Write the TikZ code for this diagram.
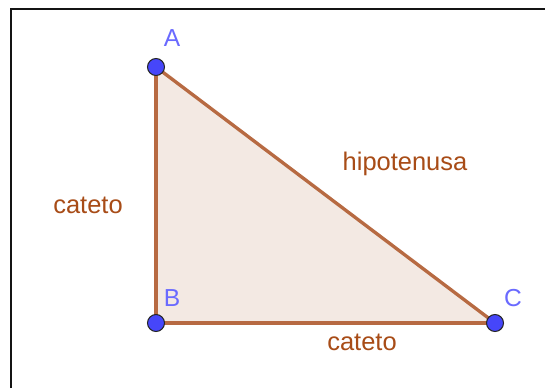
\documentclass[tikz,border=0pt]{standalone}
\usepackage{fontspec}
\setmainfont{Liberation Sans}
\usepackage{tikz}
\usetikzlibrary{positioning,backgrounds}
\definecolor{seg}{HTML}{B76A42}
\definecolor{segfill}{HTML}{F3E9E3}
\definecolor{lbl}{HTML}{A84C17}
\definecolor{pt}{HTML}{4646FA}
\definecolor{ptline}{HTML}{262626}
\definecolor{ptname}{HTML}{6A6AFF}
\definecolor{frame}{HTML}{141414}

\begin{document}
\begin{tikzpicture}[x=0.02cm,y=-0.02cm,
    vertex/.style={circle,fill=pt,draw=ptline,line width=0.6pt,minimum size=0.34cm,inner sep=0pt},
    vname/.style={font=\fontsize{14}{16}\selectfont,color=ptname,anchor=base},
    sname/.style={font=\fontsize{14.5}{17}\selectfont,color=lbl,anchor=base}]
  \useasboundingbox (0,0) rectangle (546,388);
  % points
  \node[vertex] (A) at (156,67) {};
  \node[vertex] (B) at (156,323) {};
  \node[vertex] (C) at (495,323) {};
  \node[vname] (lA) at (172,47) {A};
  \node[vname] (lB) at (172,306) {B};
  \node[vname] (lC) at (513,306) {C};
  % segment names
  \node[sname] (cb) at (88,213) {cateto};
  \node[sname] (hyp) at (405,170) {hipotenusa};
  \node[sname] (ca) at (362,350) {cateto};
  \begin{scope}[on background layer]
    \fill[white] (0,0) rectangle (546,388);
    \draw[frame,line width=1.3pt] (11,388) -- (11,8.7) -- (545,8.7);
    \fill[segfill] (A.center) -- (B.center) -- (C.center) -- cycle;
    \draw[seg,line width=1.9pt] (A.center) -- (B.center);
    \draw[seg,line width=1.9pt] (B.center) -- (C.center);
    \draw[seg,line width=1.9pt] (C.center) -- (A.center);
  \end{scope}
\end{tikzpicture}
\end{document}
